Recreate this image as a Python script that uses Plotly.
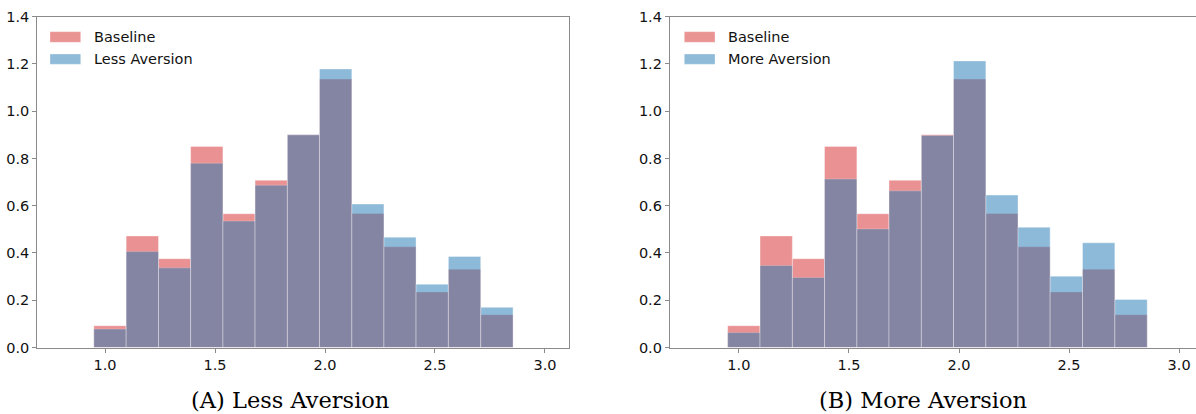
import plotly.graph_objects as go

# ---- data ----
bin_edges = [0.949, 1.096, 1.243, 1.389, 1.536, 1.682, 1.829, 1.975,
             2.122, 2.268, 2.414, 2.561, 2.708, 2.855]
baseline = [0.092, 0.472, 0.376, 0.851, 0.566, 0.708, 0.900, 1.136,
            0.567, 0.426, 0.235, 0.331, 0.139]
less_aversion = [0.078, 0.406, 0.337, 0.780, 0.535, 0.687, 0.900, 1.179,
                 0.607, 0.467, 0.268, 0.385, 0.170]
more_aversion = [0.063, 0.347, 0.296, 0.713, 0.502, 0.663, 0.897, 1.213,
                 0.645, 0.509, 0.302, 0.443, 0.203]
x_ticks = [1.0, 1.5, 2.0, 2.5, 3.0]
y_ticks = [0.0, 0.2, 0.4, 0.6, 0.8, 1.0, 1.2, 1.4]
panel_titles = ["(A) Less Aversion", "(B) More Aversion"]
series_names = [("Baseline", "Less Aversion"), ("Baseline", "More Aversion")]

W, H = 1196, 414
RED = "rgb(214,39,40)"
BLUE = "rgb(31,119,180)"
RED_A = "rgba(214,39,40,0.5)"
BLUE_A = "rgba(31,119,180,0.5)"
SPINE = "#8a8a8a"
FONT = "DejaVu Sans"

centers = [(a + b) / 2 for a, b in zip(bin_edges[:-1], bin_edges[1:])]
widths = [b - a for a, b in zip(bin_edges[:-1], bin_edges[1:])]


def px(x):
    return x / W


def py(y):
    return 1 - y / H


fig = go.Figure()

panels = [
    dict(xa="x", ya="y", other=less_aversion),
    dict(xa="x2", ya="y2", other=more_aversion),
]
for i, p in enumerate(panels):
    fig.add_trace(go.Bar(x=centers, y=baseline, width=widths, xaxis=p["xa"], yaxis=p["ya"],
                         marker=dict(color=RED, line=dict(color="rgba(255,255,255,0.7)", width=0.5)),
                         opacity=0.5, name=series_names[i][0], showlegend=False))
    fig.add_trace(go.Bar(x=centers, y=p["other"], width=widths, xaxis=p["xa"], yaxis=p["ya"],
                         marker=dict(color=BLUE, line=dict(color="rgba(255,255,255,0.7)", width=0.5)),
                         opacity=0.5, name=series_names[i][1], showlegend=False))

y_dom = [py(347.5), py(16.7)]
axis_common = dict(showgrid=False, zeroline=False, showline=True, linecolor=SPINE,
                   linewidth=1.3, ticks="outside", ticklen=4, tickwidth=1, tickcolor=SPINE,
                   automargin=False,
                   tickfont=dict(family=FONT, size=14.5, color="#111"))

fig.update_layout(
    width=W, height=H, margin=dict(l=0, r=0, t=0, b=0, autoexpand=False),
    paper_bgcolor="white", plot_bgcolor="white", barmode="overlay",
    xaxis=dict(domain=[px(37.3), px(568.7)], range=[0.692, 3.108], anchor="y",
               tickvals=x_ticks, ticktext=[f"{v:.1f}" for v in x_ticks], mirror=True, **axis_common),
    yaxis=dict(domain=y_dom, range=[0, 1.4], anchor="x",
               tickvals=y_ticks, ticktext=[f"{v:.1f}" for v in y_ticks], mirror=True, **axis_common),
    xaxis2=dict(domain=[px(670), 1.0], range=[0.687, 0.949 + (1196 - 727.7) / 220.1], anchor="y2",
                tickvals=x_ticks, ticktext=[f"{v:.1f}" for v in x_ticks], mirror=True, **axis_common),
    yaxis2=dict(domain=y_dom, range=[0, 1.4], anchor="x2",
                tickvals=y_ticks, ticktext=[f"{v:.1f}" for v in y_ticks], mirror=False, **axis_common),
)

# custom legends (matplotlib-style wide patches)
legend_pos = [(50, 92.7), (684.3, 726.7)]
rows = [(31.7, 42.3, 37.0), (54.0, 64.3, 59.2)]
for i, (x0, xt) in enumerate(legend_pos):
    for j, col in enumerate([RED_A, BLUE_A]):
        y0, y1, yc = rows[j]
        fig.add_shape(type="rect", xref="paper", yref="paper",
                      x0=px(x0), x1=px(x0 + 30.7), y0=py(y1), y1=py(y0),
                      fillcolor=col, line=dict(color="rgba(255,255,255,0.6)", width=0.5))
        fig.add_annotation(xref="paper", yref="paper", x=px(xt), y=py(yc),
                           xanchor="left", yanchor="middle", showarrow=False, borderpad=0,
                           text=series_names[i][j], font=dict(family=FONT, size=14.5, color="#111"))

# panel captions
for title, xc in zip(panel_titles, [289.5, 923.0]):
    fig.add_annotation(xref="paper", yref="paper", x=px(xc), y=py(400), xanchor="center",
                       yanchor="middle", showarrow=False, text=title,
                       font=dict(family="DejaVu Serif", size=22.5, color="black"))

fig.write_html("out.html", config={"displayModeBar": False},
               post_script="document.body.style.margin='0px';document.body.style.padding='0px';"
                           "document.documentElement.style.overflow='hidden';")
